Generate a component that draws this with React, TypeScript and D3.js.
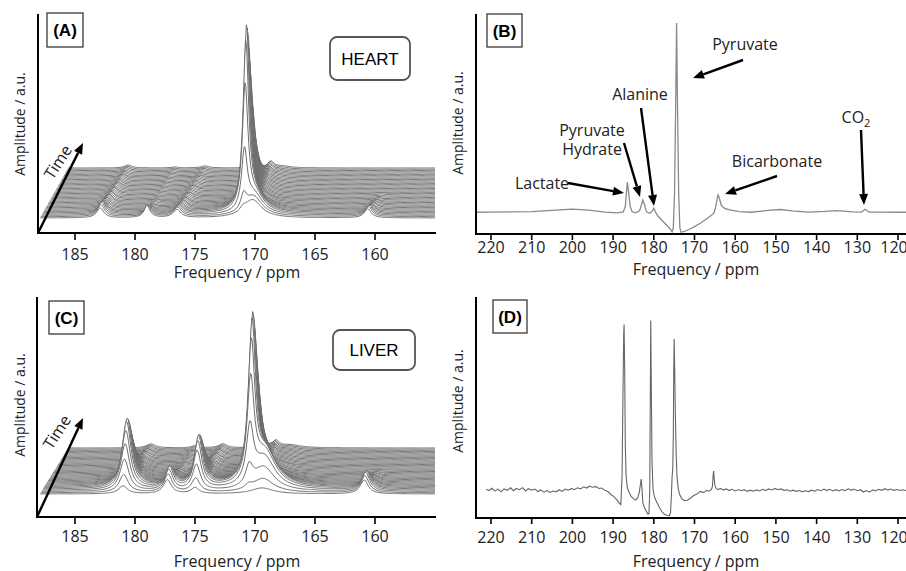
import React from "react";
import * as d3 from "d3";

const width = 906;
const height = 571;
const font = "'Open Sans', sans-serif";

// tick labels
const waterfallTicks = [185, 180, 175, 170, 165, 160];
const spectrumTicks = [220, 210, 200, 190, 180, 170, 160, 150, 140, 130, 120];

// ---- (A) heart waterfall: peak ppm, half widths, amplitude per time point (front -> back)
const heartPpm = [182.9, 179.0, 176.5, 171.0, 170.2, 160.6];
const heartHalfWidth = [0.35, 0.3, 0.4, 0.28, 0.9, 0.35];
const heartLactate = [10, 12, 13, 13, 12, 11, 10, 10, 9, 9, 8, 8, 8, 7, 7, 7, 6, 6, 6, 6, 5, 5, 5, 5, 5, 4, 4, 4, 4, 4, 4, 4, 3, 3, 3, 3, 3, 3, 3, 3];
const heartHydrate = [12, 11, 10, 8, 6, 5, 4, 3, 3, 2, 2, 2, 2, 2, 1, 1, 1, 1, 1, 1, 1, 1, 1, 1, 1, 1, 1, 1, 1, 1, 1, 1, 1, 1, 1, 1, 1, 1, 1, 1];
const heartAlanine = [8, 9, 9, 9, 8, 8, 7, 7, 7, 6, 6, 6, 5, 5, 5, 5, 5, 4, 4, 4, 4, 4, 4, 3, 3, 3, 3, 3, 3, 3, 3, 3, 2, 2, 2, 2, 2, 2, 2, 2];
const heartPyruvate = [4, 15, 58, 122, 165, 181, 178, 170, 159, 146, 133, 120, 108, 96, 86, 76, 67, 59, 52, 46, 41, 36, 32, 28, 25, 22, 20, 18, 16, 14, 13, 12, 11, 10, 9, 8, 8, 7, 7, 6];
const heartPyruvateBroad = [18, 20, 20, 18, 15, 12, 10, 8, 6, 5, 4, 3, 3, 3, 3, 2, 2, 2, 2, 2, 2, 2, 2, 2, 2, 2, 2, 2, 2, 2, 2, 2, 2, 2, 2, 2, 2, 2, 2, 2];
const heartBicarb = [9, 10, 10, 9, 8, 7, 6, 5, 5, 4, 4, 3, 3, 2, 2, 1, 1, 1, 1, 1, 0, 0, 0, 0, 0, 0, 0, 0, 0, 0, 0, 0, 0, 0, 0, 0, 0, 0, 0, 0];

// ---- (C) liver waterfall
const liverPpm = [181.0, 177.3, 175.0, 170.6, 169.4, 160.9];
const liverHalfWidth = [0.45, 0.4, 0.4, 0.35, 1.1, 0.4];
const liverLactate = [8, 18, 32, 46, 58, 66, 68, 66, 62, 57, 52, 47, 42, 38, 34, 30, 27, 24, 21, 19, 17, 15, 13, 12, 11, 10, 9, 8, 7, 7, 6, 6, 5, 5, 5, 4, 4, 4, 4, 4];
const liverHydrate = [14, 18, 21, 22, 21, 19, 17, 15, 13, 11, 10, 9, 8, 7, 6, 5, 5, 4, 4, 3, 3, 3, 3, 3, 3, 2, 2, 2, 2, 2, 2, 2, 2, 2, 2, 2, 2, 2, 2, 2];
const liverAlanine = [6, 14, 26, 38, 46, 50, 50, 48, 45, 41, 37, 33, 30, 27, 24, 21, 19, 17, 15, 13, 12, 11, 10, 9, 8, 8, 7, 7, 6, 6, 5, 5, 5, 5, 4, 4, 4, 4, 4, 4];
const liverPyruvate = [0, 4, 19, 55, 100, 135, 155, 162, 158, 149, 138, 127, 115, 104, 94, 84, 75, 66, 58, 52, 46, 40, 36, 32, 28, 25, 22, 19, 17, 15, 14, 13, 12, 11, 10, 9, 8, 8, 7, 7];
const liverPyruvateBroad = [6, 14, 24, 32, 35, 34, 31, 27, 23, 19, 16, 13, 11, 9, 8, 7, 6, 5, 5, 4, 4, 4, 4, 4, 3, 3, 3, 3, 3, 3, 3, 3, 3, 3, 3, 3, 3, 3, 3, 3];
const liverBicarb = [14, 17, 19, 19, 18, 16, 14, 12, 10, 8, 7, 6, 5, 4, 3, 3, 2, 2, 1, 1, 1, 0, 0, 0, 0, 0, 0, 0, 0, 0, 0, 0, 0, 0, 0, 0, 0, 0, 0, 0];

// ---- (B) summed heart spectrum [ppm, amplitude]
const heartSum = [
  [223.7, 10.3], [220, 10.4], [215, 10.5], [210, 10.6], [205, 11.2], [200, 11.8], [196, 11.3], [192, 10.4],
  [189, 10.0], [187.5, 10.5], [187, 13], [186.7, 20], [186.5, 24.6], [186.2, 20], [185.8, 13], [185.3, 10.5],
  [184.5, 10.0], [183.5, 11], [183, 14], [182.7, 16.1], [182.3, 14], [181.8, 10.5], [181, 9.8], [180.3, 11],
  [180, 12.3], [179.6, 10.5], [179, 8.5], [178, 6.5], [177, 4.5], [176, 2.5], [175.5, 1.0], [175.2, 3],
  [174.9, 20], [174.6, 65], [174.4, 100], [174.2, 65], [173.9, 20], [173.6, 3], [173.3, 0.8], [172.5, 1.2],
  [171, 2.5], [170, 3.5], [168.5, 5.2], [167, 7.2], [166, 8.6], [165.2, 10], [164.8, 13], [164.4, 17],
  [164.2, 18.5], [163.9, 17], [163.4, 13.5], [162.5, 12], [161, 11.3], [159, 10.6], [156, 10.3], [152, 11.2],
  [149, 11.6], [146, 11], [142, 10.4], [138, 10.7], [135, 11.1], [131, 10.5], [129, 10.4], [128.4, 11.3],
  [128.1, 11.7], [127.6, 11], [127, 10.4], [124, 10.4], [120, 10.3], [118, 10.3]
];

// ---- (D) summed liver spectrum [ppm, amplitude]
const liverSum = [
  [221.2, 13.8], [220.5, 13.2], [219.8, 14.3], [219, 12.9], [218.3, 13.9], [217.5, 12.6], [216.8, 14.0], [216, 13.3],
  [215.2, 14.5], [214.5, 13.1], [213.8, 14.2], [213, 13.6], [212.2, 14.6], [211.5, 13.0], [210.8, 14.1], [210, 13.4],
  [209.2, 13.9], [208.5, 12.7], [207.8, 13.5], [207, 12.4], [206.2, 13.2], [205.5, 12.3], [204.8, 13.0], [204, 12.6],
  [203.2, 13.6], [202.5, 12.8], [201.8, 13.9], [201, 13.4], [200.2, 14.2], [199.5, 13.6], [198.8, 14.5], [198, 14.0],
  [197.2, 15.0], [196.5, 14.4], [195.8, 15.3], [195, 14.8], [194.2, 15.1], [193.5, 14.2], [192.8, 14.4], [192, 13.3],
  [191.2, 12.6], [190.5, 11.2], [189.8, 10.3], [189, 8.6], [188.5, 7.2], [188.1, 6.5], [187.8, 20], [187.6, 55],
  [187.4, 88], [187.3, 93], [187.15, 70], [187.0, 35], [186.8, 20], [186.5, 14.5], [186.1, 12.5], [185.6, 10.5],
  [185, 9.3], [184.5, 8.6], [184, 9.5], [183.6, 12], [183.3, 16], [183.1, 18.7], [182.9, 14], [182.7, 7.5],
  [182.3, 5], [181.9, 3.5], [181.5, 2], [181.2, 2], [181.0, 12], [180.9, 45], [180.75, 95], [180.6, 60],
  [180.45, 28], [180.2, 14], [179.9, 10.5], [179.5, 8.5], [179.1, 7], [178.6, 5], [178, 3], [177.4, 1.8],
  [176.8, 1.3], [176.2, 1.0], [175.9, 2.5], [175.7, 10], [175.5, 20], [175.35, 23], [175.2, 40], [175.1, 70],
  [175.0, 86], [174.85, 70], [174.7, 50], [174.5, 30], [174.3, 20], [174.0, 14], [173.6, 11], [173, 9],
  [172.4, 8.3], [171.8, 8.5], [171, 9.5], [170.2, 10.8], [169.4, 11.5], [168.6, 12.8], [167.8, 12.2], [167, 13.3],
  [166.4, 12.9], [165.9, 13.6], [165.6, 15], [165.4, 21], [165.3, 22.6], [165.15, 19], [165.0, 15.8], [164.7, 14.3],
  [164.3, 13.6], [163.6, 14.2], [162.9, 13.4], [162.2, 14.0], [161.5, 13.2], [160.8, 13.8], [160, 13.0], [159.2, 13.7],
  [158.5, 13.1], [157.8, 13.6], [157, 12.8], [156.3, 13.4], [155.5, 12.9], [154.8, 13.5], [154, 13.0], [153.2, 13.8],
  [152.5, 13.2], [151.8, 14.0], [151, 13.5], [150.2, 14.2], [149.5, 13.6], [148.8, 14.0], [148, 13.3], [147.2, 13.6],
  [146.5, 12.9], [145.8, 13.4], [145, 12.8], [144.2, 13.2], [143.5, 12.6], [142.8, 13.1], [142, 12.7], [141.2, 13.4],
  [140.5, 12.9], [139.8, 13.7], [139, 13.1], [138.2, 13.9], [137.5, 13.2], [136.8, 13.8], [136, 13.0], [135.2, 13.6],
  [134.5, 13.0], [133.8, 13.7], [133, 13.2], [132.2, 14.0], [131.5, 13.3], [130.8, 13.9], [130, 13.1], [129.2, 13.6],
  [128.5, 12.5], [127.8, 13.2], [127, 12.4], [126.2, 13.5], [125.5, 13.0], [124.8, 13.8], [124, 13.3], [123.2, 14.1],
  [122.5, 13.4], [121.8, 13.9], [121, 13.3], [120.2, 13.7], [119.5, 13.2], [118.8, 13.6], [118, 13.2]
];

// scales
const xWaterfall = d3.scaleLinear().domain([185, 160]).range([75, 375]);
const xSpectrum = d3.scaleLinear().domain([220, 120]).range([491, 898]);
const ampWaterfall = d3.scaleLinear().domain([0, 100]).range([0, 100]);
const yHeartSum = d3.scaleLinear().domain([0, 100]).range([234, 23]);
const yLiverSum = d3.scaleLinear().domain([0, 100]).range([518, 310]);

const traceGrid = d3.range(187.9, 149.9, -0.08);

function buildTraces(ppms, halfWidths, amps, frontY, backY, shiftX) {
  const n = amps[0].length;
  return d3.range(n).map((i) => {
    const dx = (shiftX * i) / (n - 1);
    const base = frontY - ((frontY - backY) * i) / (n - 1);
    const pts = traceGrid.map((p) => {
      let a = 0;
      ppms.forEach((p0, k) => {
        const w = halfWidths[k];
        a += (amps[k][i] * w * w) / ((p - p0) * (p - p0) + w * w);
      });
      return [xWaterfall(p) + dx, base - ampWaterfall(a)];
    });
    return { i, base, pts };
  });
}

const Arrow = ({ x1, y1, x2, y2, w = 2.4, head = 11, half = 4.5 }) => {
  const a = Math.atan2(y2 - y1, x2 - x1);
  const bx = x2 - head * Math.cos(a);
  const by = y2 - head * Math.sin(a);
  const px = -Math.sin(a) * half;
  const py = Math.cos(a) * half;
  return (
    <g>
      <line x1={x1} y1={y1} x2={bx} y2={by} stroke="#000" strokeWidth={w} />
      <polygon points={`${x2},${y2} ${bx + px},${by + py} ${bx - px},${by - py}`} fill="#000" />
    </g>
  );
};

const Tag = ({ x, y, w, h, label }) => (
  <g>
    <rect x={x} y={y} width={w} height={h} fill="#fff" stroke="#3a3a3a" strokeWidth={1.3} />
    <text x={x + w / 2} y={y + h / 2 + 6} textAnchor="middle" fontWeight="bold" fontSize={17} fontFamily="'Liberation Sans', Arial, sans-serif">
      {label}
    </text>
  </g>
);

const Organ = ({ x, y, w, h, label }) => (
  <g>
    <rect x={x} y={y} width={w} height={h} rx={7} fill="#fff" stroke="#555" strokeWidth={1.8} />
    <text x={x + w / 2} y={y + h / 2 + 6} textAnchor="middle" fontSize={17} fontFamily="'Liberation Sans', Arial, sans-serif">
      {label}
    </text>
  </g>
);

const Waterfall = ({ id, traces, axisX, axisTop, axisY, tickLabelY, titleY, yLabelY, tag, organ, timeArrow, timeText }) => {
  const line = d3.line();
  const ordered = [...traces].reverse();
  return (
    <g>
      <defs>
        <clipPath id={id}>
          <rect x={0} y={0} width={435} height={height} />
        </clipPath>
      </defs>
      <g clipPath={`url(#${id})`}>
        {ordered.map((t) => {
          const first = t.pts[0];
          const last = t.pts[t.pts.length - 1];
          const fillPts = [...t.pts, [last[0], t.base + 2], [first[0], t.base + 2]];
          return (
            <g key={t.i}>
              <path d={line(fillPts) + "Z"} fill="#fff" stroke="none" />
              <path d={line(t.pts)} fill="none" stroke="#666" strokeWidth={0.95} />
            </g>
          );
        })}
      </g>
      <line x1={axisX} y1={axisTop} x2={axisX} y2={axisY + 1} stroke="#000" strokeWidth={2} />
      <line x1={axisX - 1} y1={axisY} x2={436} y2={axisY} stroke="#000" strokeWidth={2} />
      {waterfallTicks.map((v) => (
        <g key={v} transform={`translate(${xWaterfall(v)},0)`}>
          <line y1={axisY} y2={axisY + 7} stroke="#000" strokeWidth={1.6} />
          <text y={tickLabelY} textAnchor="middle" fontSize={16} fontFamily={font} fill="#222">
            {v}
          </text>
        </g>
      ))}
      <text x={237} y={titleY} textAnchor="middle" fontSize={16} fontFamily={font} fill="#222">
        Frequency / ppm
      </text>
      <text transform={`translate(25,${yLabelY}) rotate(-90)`} textAnchor="middle" fontSize={14} fontFamily={font} fill="#222">
        Amplitude / a.u.
      </text>
      <Arrow {...timeArrow} />
      <text transform={`translate(${timeText[0]},${timeText[1]}) rotate(-57)`} textAnchor="middle" fontSize={16} fontFamily={font} fill="#222" dy="0.35em">
        Time
      </text>
      <Tag {...tag} />
      <Organ {...organ} />
    </g>
  );
};

const Spectrum = ({ data, yScale, axisTop, axisY, tickLabelY, titleY, yLabelY, stroke, strokeWidth, tag, children }) => {
  const line = d3
    .line()
    .x((d) => xSpectrum(d[0]))
    .y((d) => yScale(d[1]));
  return (
    <g>
      <path d={line(data)} fill="none" stroke={stroke} strokeWidth={strokeWidth} />
      <line x1={476} y1={axisTop} x2={476} y2={axisY + 1} stroke="#000" strokeWidth={2} />
      <line x1={475} y1={axisY} x2={906} y2={axisY} stroke="#000" strokeWidth={2} />
      {spectrumTicks.map((v, k) => (
        <g key={v} transform={`translate(${xSpectrum(v)},0)`}>
          <line y1={axisY} y2={axisY + 6} stroke="#000" strokeWidth={1.6} />
          <text x={k === spectrumTicks.length - 1 ? -4 : 0} y={tickLabelY} textAnchor="middle" fontSize={16} fontFamily={font} fill="#222">
            {v}
          </text>
        </g>
      ))}
      <text x={696} y={titleY} textAnchor="middle" fontSize={16} fontFamily={font} fill="#222">
        Frequency / ppm
      </text>
      <text transform={`translate(463,${yLabelY}) rotate(-90)`} textAnchor="middle" fontSize={14} fontFamily={font} fill="#222">
        Amplitude / a.u.
      </text>
      <Tag {...tag} />
      {children}
    </g>
  );
};

export default function App() {
  const heartTraces = buildTraces(
    heartPpm,
    heartHalfWidth,
    [heartLactate, heartHydrate, heartAlanine, heartPyruvate, heartPyruvateBroad, heartBicarb],
    218,
    168,
    28
  );
  const liverTraces = buildTraces(
    liverPpm,
    liverHalfWidth,
    [liverLactate, liverHydrate, liverAlanine, liverPyruvate, liverPyruvateBroad, liverBicarb],
    494,
    448,
    28
  );
  const label = { fontSize: 16, fontFamily: font, fill: "#222", textAnchor: "middle" } as const;
  return (
    <svg width={width} height={height} style={{ position: "absolute", left: 0, top: 0, background: "#fff" }}>
      <Waterfall
        id="clipA"
        traces={heartTraces}
        axisX={38}
        axisTop={14}
        axisY={233}
        tickLabelY={260}
        titleY={278}
        yLabelY={124}
        tag={{ x: 47, y: 13, w: 36, h: 34, label: "(A)" }}
        organ={{ x: 330, y: 37, w: 80, h: 43, label: "HEART" }}
        timeArrow={{ x1: 38, y1: 233, x2: 83, y2: 143 }}
        timeText={[58, 162]}
      />
      <Waterfall
        id="clipC"
        traces={liverTraces}
        axisX={37}
        axisTop={297}
        axisY={517}
        tickLabelY={542}
        titleY={567}
        yLabelY={405}
        tag={{ x: 49, y: 301, w: 35, h: 33, label: "(C)" }}
        organ={{ x: 333, y: 330, w: 82, h: 40, label: "LIVER" }}
        timeArrow={{ x1: 37, y1: 517, x2: 83, y2: 418 }}
        timeText={[57, 432]}
      />
      <Spectrum
        data={heartSum}
        yScale={yHeartSum}
        axisTop={14}
        axisY={234}
        tickLabelY={253}
        titleY={275}
        yLabelY={123}
        stroke="#8a8a8a"
        strokeWidth={1.3}
        tag={{ x: 487, y: 14, w: 35, h: 33, label: "(B)" }}
      >
        <text x={745} y={50} {...label}>Pyruvate</text>
        <Arrow x1={743} y1={60} x2={693} y2={78} />
        <text x={640} y={100} {...label}>Alanine</text>
        <Arrow x1={641} y1={108} x2={654} y2={206} />
        <text x={592} y={136} {...label}>Pyruvate</text>
        <text x={592} y={155} {...label}>Hydrate</text>
        <Arrow x1={624} y1={143} x2={640} y2={197} />
        <text x={542} y={189} {...label}>Lactate</text>
        <Arrow x1={568} y1={183} x2={624} y2={193} />
        <text x={777} y={167} {...label}>Bicarbonate</text>
        <Arrow x1={777} y1={176} x2={725} y2={194} />
        <text x={856} y={123} {...label}>
          CO<tspan fontSize={11} dy={4}>2</tspan>
        </text>
        <Arrow x1={861} y1={130} x2={864} y2={205} />
      </Spectrum>
      <Spectrum
        data={liverSum}
        yScale={yLiverSum}
        axisTop={297}
        axisY={518}
        tickLabelY={543}
        titleY={567}
        yLabelY={401}
        stroke="#666"
        strokeWidth={1.1}
        tag={{ x: 493, y: 300, w: 34, h: 33, label: "(D)" }}
      />
    </svg>
  );
}
